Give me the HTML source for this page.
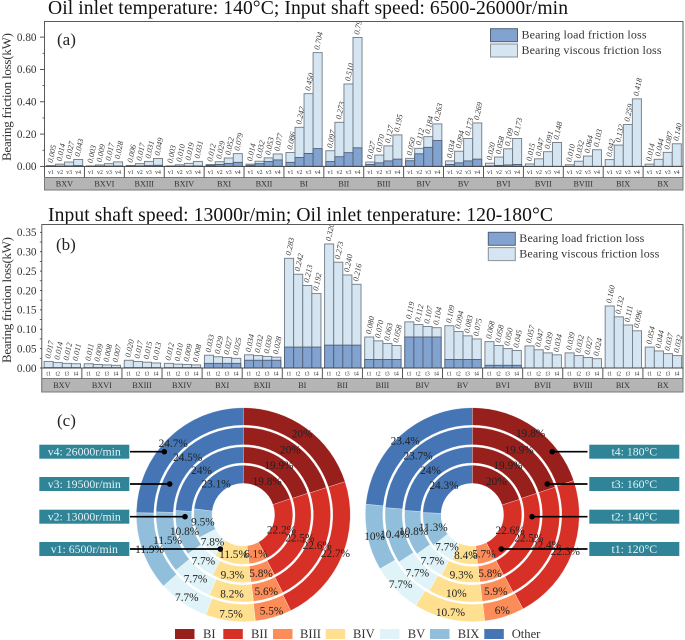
<!DOCTYPE html>
<html lang="en">
<head>
<meta charset="utf-8">
<title>Bearing friction loss charts</title>
<style>
html,body{margin:0;padding:0;background:#fff;}
#figure{display:block;width:685px;height:640px;font-family:"Liberation Serif",serif;}
</style>
</head>
<body>
<svg id="figure" xmlns="http://www.w3.org/2000/svg" width="685" height="640" viewBox="0 0 685 640">
  <defs>
    <clipPath id="clip-a"><rect x="44" y="22" width="640" height="150"></rect></clipPath>
    <clipPath id="clip-b"><rect x="41" y="225" width="643" height="150"></rect></clipPath>
  </defs>
  <text x="48" y="14" font-size="19.6" fill="#111" textLength="520">Oil inlet temperature: 140°C; Input shaft speed: 6500-26000r/min</text>
  <text x="48" y="221" font-size="19.6" fill="#111" textLength="505">Input shaft speed: 13000r/min; Oil inlet tenperature: 120-180°C</text>
  <g id="chart-a"></g>
  <g id="chart-b"></g>
  <text x="57" y="45" font-size="17" fill="#222">(a)</text>
  <text x="56" y="250" font-size="17" fill="#222">(b)</text>
  <text x="57" y="426" font-size="17" fill="#222">(c)</text>
  <g id="donut-left"></g>
  <g id="donut-right"></g>
  <g id="callouts"></g>
  <g id="donut-legend"></g>
</svg>
<script>
const NS = 'http://www.w3.org/2000/svg';

const categories = ['BXV','BXVI','BXIII','BXIV','BXI','BXII','BI','BII','BIII','BIV','BV','BVI','BVII','BVIII','BIX','BX'];
const speedLabels = ['v1','v2','v3','v4'];
const tempLabels = ['t1','t2','t3','t4'];

const speedTotals = [
  [0.005,0.014,0.027,0.043],[0.003,0.009,0.017,0.028],[0.006,0.017,0.031,0.049],[0.003,0.010,0.019,0.031],
  [0.012,0.029,0.052,0.079],[0.014,0.032,0.053,0.077],[0.086,0.242,0.450,0.704],[0.097,0.273,0.510,0.798],
  [0.027,0.070,0.127,0.195],[0.050,0.112,0.184,0.263],[0.034,0.094,0.173,0.269],[0.020,0.058,0.109,0.173],
  [0.015,0.047,0.091,0.148],[0.010,0.032,0.064,0.103],[0.042,0.132,0.259,0.418],[0.014,0.044,0.087,0.140]
];
const speedLoads = [
  [0.001,0.002,0.003,0.005],[0.001,0.001,0.002,0.003],[0.001,0.003,0.005,0.007],[0.001,0.001,0.002,0.003],
  [0.006,0.012,0.018,0.025],[0.007,0.017,0.030,0.040],[0.025,0.055,0.080,0.110],[0.030,0.060,0.085,0.115],
  [0.012,0.022,0.034,0.045],[0.035,0.078,0.118,0.160],[0.012,0.022,0.034,0.045],[0.003,0.006,0.009,0.012],
  [0,0,0,0],[0,0,0,0],[0,0,0,0],[0,0,0,0]
];
const tempTotals = [
  [0.017,0.014,0.012,0.011],[0.011,0.009,0.008,0.007],[0.020,0.017,0.015,0.013],[0.012,0.010,0.009,0.008],
  [0.033,0.029,0.027,0.025],[0.034,0.032,0.030,0.028],[0.283,0.242,0.213,0.192],[0.320,0.273,0.240,0.216],
  [0.080,0.070,0.063,0.058],[0.119,0.112,0.107,0.104],[0.109,0.094,0.083,0.075],[0.068,0.058,0.050,0.045],
  [0.057,0.047,0.039,0.034],[0.039,0.032,0.027,0.024],[0.160,0.132,0.111,0.096],[0.054,0.044,0.037,0.032]
];
const tempLoads = [
  [0.001,0.001,0.001,0.001],[0.001,0.001,0.001,0.001],[0.001,0.001,0.001,0.001],[0.001,0.001,0.001,0.001],
  [0.012,0.012,0.012,0.012],[0.020,0.020,0.020,0.020],[0.054,0.054,0.054,0.054],[0.059,0.059,0.059,0.059],
  [0.022,0.022,0.022,0.022],[0.080,0.080,0.080,0.080],[0.022,0.022,0.022,0.022],[0.007,0.007,0.007,0.007],
  [0,0,0,0],[0,0,0,0],[0,0,0,0],[0,0,0,0]
];
const speedTicks = [0,0.2,0.4,0.6,0.8];
const tempTicks = [0,0.05,0.1,0.15,0.2,0.25,0.3,0.35];
const seriesNames = ['Bearing load friction loss','Bearing viscous friction loss'];

const sliceNames = ['BI','BII','BIII','BIV','BV','BIX','Other'];
const speedRings = [
  [19.8,22.2,6.1,11.5,7.8,9.5,23.1],
  [19.9,22.5,5.8,9.3,7.7,10.8,24],
  [20,22.6,5.6,8.2,7.7,11.5,24.5],
  [20,22.7,5.5,7.5,7.7,11.9,24.7]
];
const tempRings = [
  [20,22.6,5.7,8.4,7.7,11.3,24.3],
  [19.9,22.5,5.8,9.3,7.7,10.8,24],
  [19.9,22.4,5.9,10,7.7,10.4,23.7],
  [19.8,22.3,6,10.7,7.7,10,23.4]
];
const speedCalloutText = ['v1:  6500r/min','v2: 13000r/min','v3: 19500r/min','v4: 26000r/min'];
const tempCalloutText = ['t1: 120°C','t2: 140°C','t3: 160°C','t4: 180°C'];

const sliceColors = {BI:'#971f1c',BII:'#d73027',BIII:'#fc8d59',BIV:'#fee090',BV:'#e0f3f8',BIX:'#91bfdb',Other:'#4575b4'};

function make(tag, attrs, parent, content) {
  const node = document.createElementNS(NS, tag);
  for (const k in attrs) node.setAttribute(k, attrs[k]);
  if (content !== undefined) node.textContent = content;
  parent.appendChild(node);
  return node;
}

function drawBars(root, cfg) {
  const y = v => cfg.y0 - v * cfg.scale;
  const groupW = (cfg.right - cfg.left) / categories.length;
  const gx = i => cfg.left + i * groupW;
  const bx = (i, j) => gx(i) + cfg.pad + j * cfg.barW;

  const plot = make('rect', {x: cfg.left, y: cfg.top, width: cfg.right - cfg.left, height: cfg.stripBottom - cfg.top, fill: '#fff', stroke: '#5a5a5a', 'stroke-width': 1}, root);
  
  

  const gray = make('rect', {x: cfg.left, y: cfg.stripMid, width: cfg.right - cfg.left, height: cfg.stripBottom - cfg.stripMid, fill: '#b5b5b5', stroke: '#7a7a7a', 'stroke-width': 1}, root);
  
  

  cfg.totals.forEach((vals, i) => {
    vals.forEach((v, j) => {
      const load = cfg.loads[i][j];
      const vb = make('rect', {x: bx(i, j), y: y(v), width: cfg.barW, height: cfg.y0 - y(v), fill: '#d5e5f1', stroke: '#6f7a85', 'stroke-width': 0.9}, root);
      
      
      if (load > 0) {
        const lb = make('rect', {x: bx(i, j), y: y(load), width: cfg.barW, height: cfg.y0 - y(load), fill: '#82a3d0', stroke: '#4f5f78', 'stroke-width': 0.9}, root);
        
        
      }
      const cx = bx(i, j) + cfg.barW / 2 + 1.5;
      const ly = y(v) - 2.5;
      const holder = make('g', {'clip-path': 'url(#' + cfg.clip + ')'}, root);
      
      
      const val = make('text', {x: cx, y: ly, 'font-size': 8, 'font-style': 'italic', fill: '#333', transform: 'rotate(-78 ' + cx + ' ' + ly + ')'}, holder, v.toFixed(3));
      
      
      const lab = make('text', {x: bx(i, j) + cfg.barW / 2, y: (cfg.y0 + cfg.stripMid) / 2 + 2, 'font-size': 5.8, 'text-anchor': 'middle', fill: '#333'}, root, cfg.subLabels[j]);
      
      
    });
    const cat = make('text', {x: gx(i) + groupW / 2, y: (cfg.stripMid + cfg.stripBottom) / 2 + 2.8, 'font-size': 8.2, 'text-anchor': 'middle', fill: '#333'}, root, categories[i]);
    
    
    if (i > 0) {
      const sep = make('line', {x1: gx(i), x2: gx(i), y1: cfg.y0, y2: cfg.stripMid, stroke: '#444', 'stroke-width': 0.9}, root);
      
      
    }
  });

  const axisLine = make('line', {x1: cfg.left, x2: cfg.right, y1: cfg.y0, y2: cfg.y0, stroke: '#444', 'stroke-width': 1}, root);
  
  

  cfg.ticks.forEach((t, k) => {
    const tick = make('line', {x1: 40, x2: cfg.left, y1: y(t), y2: y(t), stroke: '#444', 'stroke-width': 0.9}, root);
    
    
    const tl = make('text', {x: 36.5, y: y(t) + 3.8, 'font-size': 11.2, 'text-anchor': 'end', fill: '#333'}, root, t.toFixed(2));
    
    
    if (k < cfg.ticks.length - 1) {
      const m = (t + cfg.ticks[k + 1]) / 2;
      const minor = make('line', {x1: cfg.left - 2, x2: cfg.left, y1: y(m), y2: y(m), stroke: '#444', 'stroke-width': 0.8}, root);
      
      
    }
  });

  const title = make('text', {x: 11, y: cfg.titleY, 'font-size': 13, 'text-anchor': 'middle', fill: '#333', transform: 'rotate(-90 11 ' + cfg.titleY + ')', textLength: cfg.titleLen}, root, 'Bearing friction loss(kW)');
  
  

  const fills = ['#82a3d0', '#d5e5f1'];
  const strokes = ['#4f5f78', '#8a9299'];
  seriesNames.forEach((nm, k) => {
    const sw = make('rect', {x: cfg.legendX, y: cfg.legendY + k * 15.3, width: 27, height: 13, fill: fills[k], stroke: strokes[k], 'stroke-width': 1}, root);
    
    
    const tx = make('text', {x: cfg.legendX + 31, y: cfg.legendY + 9.8 + k * 15.4, 'font-size': 12, fill: '#333', textLength: k ? 140 : 125}, root, nm);
    
    
  });
}

drawBars(document.getElementById('chart-a'), {
  totals: speedTotals, loads: speedLoads, ticks: speedTicks, subLabels: speedLabels, clip: 'clip-a',
  left: 44.5, right: 683, top: 21.5, y0: 166.4, scale: 161.6, stripMid: 177.5, stripBottom: 190,
  pad: 2, barW: 9.05, titleY: 97, titleLen: 128, legendX: 490.5, legendY: 28.7
});
drawBars(document.getElementById('chart-b'), {
  totals: tempTotals, loads: tempLoads, ticks: tempTicks, subLabels: tempLabels, clip: 'clip-b',
  left: 41.8, right: 683, top: 224.5, y0: 368, scale: 387.6, stripMid: 378.5, stripBottom: 392,
  pad: 2.3, barW: 9.1, titleY: 300, titleLen: 126, legendX: 488.3, legendY: 232.3
});

const ringBands = [[31.3,49.5],[51.7,67.8],[70,87.3],[89.5,107]];
const labelRadii = [41,61,80,100];

function sector(cx, cy, r0, r1, a0, a1) {
  const p = (r, a) => (cx + r * Math.sin(a)).toFixed(2) + ' ' + (cy - r * Math.cos(a)).toFixed(2);
  const large = (a1 - a0) > Math.PI ? 1 : 0;
  return 'M' + p(r1, a0) + 'A' + r1 + ' ' + r1 + ' 0 ' + large + ' 1 ' + p(r1, a1) +
         'L' + p(r0, a1) + 'A' + r0 + ' ' + r0 + ' 0 ' + large + ' 0 ' + p(r0, a0) + 'Z';
}

function drawDonut(root, rings, cx, cy) {
  const labels = [];
  rings.forEach((vals, ri) => {
    const total = vals.reduce((a, b) => a + b, 0);
    let acc = 0;
    vals.forEach((v, si) => {
      const a0 = acc / total * 2 * Math.PI;
      acc += v;
      const a1 = acc / total * 2 * Math.PI;
      const slice = make('path', {d: sector(cx, cy, ringBands[ri][0], ringBands[ri][1], a0, a1), fill: sliceColors[sliceNames[si]], stroke: '#fff', 'stroke-width': 0.3}, root);
      
      
      const mid = (a0 + a1) / 2;
      labels.push([cx + labelRadii[ri] * Math.sin(mid), cy - labelRadii[ri] * Math.cos(mid), v]);
    });
  });
  labels.forEach(l => {
    const t = make('text', {x: l[0], y: l[1] + 3.7, 'font-size': 11.3, 'text-anchor': 'middle', fill: '#222'}, root, l[2] + '%');
    
    
  });
}

drawDonut(document.getElementById('donut-left'), speedRings, 243.3, 514.7);
drawDonut(document.getElementById('donut-right'), tempRings, 472.3, 514.7);

const calloutRoot = document.getElementById('callouts');
const calloutRows = [549, 516.7, 484, 451.7];
const leftDots = [220.3, 185, 169.7, 164.3];
const rightDots = [501.3, 532, 547.3, 552.3];

function drawCallout(text, boxX, lineX, dotX, yc) {
  const line = make('line', {x1: lineX, x2: dotX, y1: yc, y2: yc, stroke: '#000', 'stroke-width': 1.7}, calloutRoot);
  
  
  const dot = make('circle', {cx: dotX, cy: yc, r: 2.8, fill: '#000'}, calloutRoot);
  
  
  const box = make('rect', {x: boxX, y: yc - 7, width: 90, height: 14, fill: '#2f8497'}, calloutRoot);
  
  
  const tx = make('text', {x: boxX + 45, y: yc + 4, 'font-size': 11.8, 'text-anchor': 'middle', fill: '#e6f2f4', 'xml:space': 'preserve'}, calloutRoot, text);
  
  
}
calloutRows.forEach((yc, i) => {
  drawCallout(speedCalloutText[i], 39.3, 130, leftDots[i], yc);
  drawCallout(tempCalloutText[i], 589.3, 587.5, rightDots[i], yc);
});

const legendRoot = document.getElementById('donut-legend');
const legendSwatchX = [175, 223.3, 273, 325.7, 380, 430, 484.3];
const legendTextX = [203, 251, 300, 353, 407.7, 457.7, 511.7];
sliceNames.forEach((nm, i) => {
  const sw = make('rect', {x: legendSwatchX[i], y: 629, width: 19.5, height: 10, fill: sliceColors[nm]}, legendRoot);
  
  
  const tx = make('text', {x: legendTextX[i], y: 638, 'font-size': 12.6, fill: '#333'}, legendRoot, nm);
  
  
});
</script>
</body>
</html>
